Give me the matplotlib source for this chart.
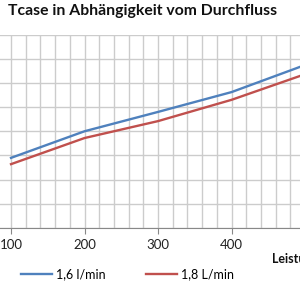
import matplotlib
matplotlib.use("Agg")
import matplotlib.pyplot as plt
from matplotlib.ticker import MultipleLocator

# Leistung [W] vs. Tcase
leistung = [100, 200, 300, 400, 500]
tcase_16 = [34.5, 40.0, 44.0, 48.1, 53.7]
tcase_18 = [33.2, 38.6, 42.1, 46.5, 51.8]
labels = ["1,6 l/min", "1,8 L/min"]

plt.rcParams["font.family"] = ["Lato", "DejaVu Sans"]

fig = plt.figure(figsize=(3, 3), dpi=100)
ax = fig.add_axes([0.0, 0.24, 1.0, 0.645])

l1, = ax.plot(leistung, tcase_16, color="#4F81BD", lw=1.7)
l2, = ax.plot(leistung, tcase_18, color="#C0504D", lw=1.7)

ax.set_xlim(85, 493)
ax.set_ylim(20, 60)
ax.xaxis.set_major_locator(MultipleLocator(100))
ax.xaxis.set_minor_locator(MultipleLocator(20))
ax.yaxis.set_major_locator(MultipleLocator(5))
ax.grid(True, which="both", color="#cccccc", lw=1.0)
ax.set_axisbelow(True)
ax.tick_params(axis="x", which="minor", length=0)
ax.tick_params(axis="x", which="major", length=4, color="#888888",
               labelsize=9.5, labelcolor="#222222", pad=4)
ax.tick_params(axis="y", left=False, labelleft=False)
for s in ["left", "right", "top"]:
    ax.spines[s].set_visible(False)
ax.spines["bottom"].set_color("#888888")

fig.text(0.027, 0.963, "Tcase in Abhängigkeit vom Durchfluss",
         fontsize=11.3, fontweight="bold", va="center", ha="left", color="#111111")
fig.text(0.905, 0.137, "Leistung [W]", fontsize=9, fontweight="bold",
         va="center", ha="left", color="#111111")

fig.legend([l1, l2], labels, loc="center", bbox_to_anchor=(0.425, 0.087),
           ncol=2, frameon=False, fontsize=9, handlelength=2.5,
           columnspacing=3.2, handletextpad=0.35)

fig.savefig("out.png", dpi=100)
